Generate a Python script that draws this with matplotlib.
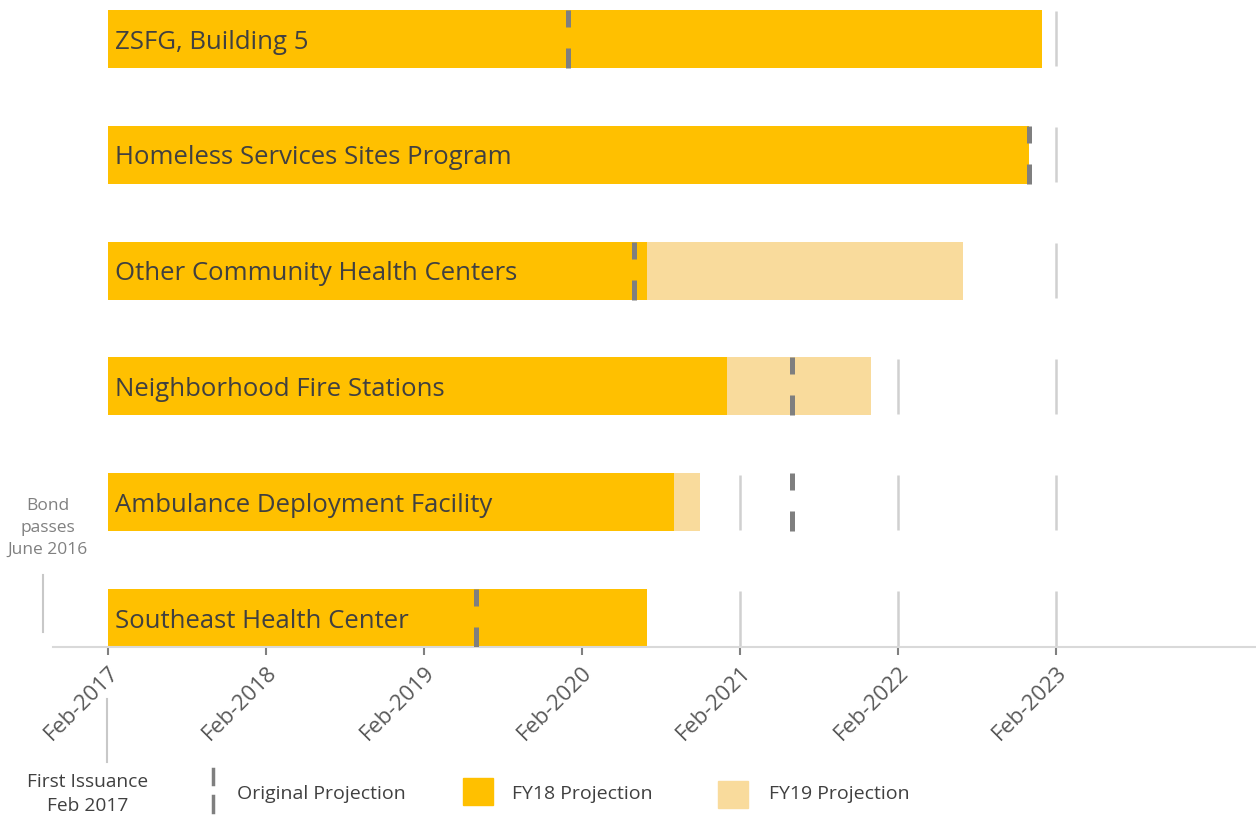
import datetime as dt
import matplotlib

matplotlib.use("Agg")
import matplotlib.pyplot as plt
import matplotlib.dates as mdates
from matplotlib.patches import Rectangle
from matplotlib.lines import Line2D

plt.rcParams["font.family"] = ["Open Sans", "DejaVu Sans"]

# data, bottom row first
projects = [
    "Southeast Health Center",
    "Ambulance Deployment Facility",
    "Neighborhood Fire Stations",
    "Other Community Health Centers",
    "Homeless Services Sites Program",
    "ZSFG, Building 5",
]
start_date = "2017-02-01"
fy18_end = ["2020-07-01", "2020-09-01", "2021-01-01", "2020-07-01", "2022-12-01", "2023-01-01"]
fy19_end = [None, "2020-11-01", "2021-12-01", "2022-07-01", None, None]
original = ["2019-06-01", "2021-06-01", "2021-06-01", "2020-06-01", "2022-12-01", "2020-01-01"]
tick_dates = ["2017-02-01", "2018-02-01", "2019-02-01", "2020-02-01",
              "2021-02-01", "2022-02-01", "2023-02-01"]

FY18_COLOR = "#FFC000"
FY19_COLOR = "#F9DB9C"
ORIG_COLOR = "#7F7F7F"
GRID_COLOR = "#D0D0D0"
TEXT_COLOR = "#404040"


def d(s):
    return mdates.date2num(dt.datetime.strptime(s, "%Y-%m-%d"))


W, H = 1256, 820
fig = plt.figure(figsize=(W / 100, H / 100), dpi=100)
ax = fig.add_axes([53 / W, (H - 648) / H, 1 - 53 / W, 648 / H])

x0 = d(start_date)
days_per_px = 365.25 / 158
ax.set_xlim(x0 - 55 * days_per_px, x0 + 1148 * days_per_px)
ax.set_ylim(-0.25, -0.25 + 649 / 116)

bar_h = 0.5
rows = range(len(projects))
ticks = [d(t) for t in tick_dates]

# grid segments only inside each row (kept a pixel short so they don't peek past bars)
g = bar_h / 2 - 1.5 / 116
for y in rows:
    ax.vlines(ticks[1:], y - g, y + g, color=GRID_COLOR, lw=1.8, zorder=1)

s = x0
for y, name, e18, e19, orig in zip(rows, projects, fy18_end, fy19_end, original):
    ax.barh(y, d(e18) - s, left=s, height=bar_h, color=FY18_COLOR, zorder=2)
    if e19:
        ax.barh(y, d(e19) - d(e18), left=d(e18), height=bar_h, color=FY19_COLOR, zorder=2)
    ox = d(orig)
    top, bot = y + bar_h / 2, y - bar_h / 2
    ax.vlines([ox, ox], [top - 17 / 116, bot], [top, bot + 20 / 116],
              color=ORIG_COLOR, lw=3.6, zorder=3)
    ax.annotate(name, xy=(s, y), xytext=(5, -1.5), textcoords="offset points",
                va="center", ha="left", fontsize=18.5, color=TEXT_COLOR, zorder=4)

for sp in ["top", "right", "left"]:
    ax.spines[sp].set_visible(False)
ax.spines["bottom"].set_color("#D9D9D9")
ax.spines["bottom"].set_linewidth(1.5)
ax.set_yticks([])
ax.set_xticks(ticks)
ax.xaxis.set_major_formatter(mdates.DateFormatter("%b-%Y"))
ax.tick_params(axis="x", length=6, width=1.5, color="#808080", pad=4,
               labelsize=16, labelcolor="#595959")
for lbl in ax.get_xticklabels():
    lbl.set_rotation(45)
    lbl.set_ha("right")
    lbl.set_rotation_mode("anchor")

# side notes
fig.text(48 / W, 1 - 528 / H, "Bond\npasses\nJune 2016", ha="center", va="center",
         fontsize=12.5, color="#808080", linespacing=1.5)
fig.add_artist(Line2D([43 / W, 43 / W], [1 - 576 / H, 1 - 633 / H], color="#C8C8C8", lw=1.5))
fig.text(88 / W, 1 - 794 / H, "First Issuance\nFeb 2017", ha="center", va="center",
         fontsize=13.8, color=TEXT_COLOR, linespacing=1.45)
fig.add_artist(Line2D([107 / W, 107 / W], [1 - 700 / H, 1 - 763 / H], color="#C8C8C8", lw=1.5))

# legend
fig.add_artist(Line2D([213 / W, 213 / W], [1 - 770 / H, 1 - 785 / H], color=ORIG_COLOR, lw=2.5))
fig.add_artist(Line2D([213 / W, 213 / W], [1 - 797 / H, 1 - 813 / H], color=ORIG_COLOR, lw=2.5))
fig.text(237 / W, 1 - 794 / H, "Original Projection", va="center", fontsize=14, color=TEXT_COLOR)
fig.add_artist(Rectangle((463 / W, 1 - 806 / H), 30 / W, 27 / H, color=FY18_COLOR,
                         transform=fig.transFigure))
fig.text(512 / W, 1 - 794 / H, "FY18 Projection", va="center", fontsize=14, color=TEXT_COLOR)
fig.add_artist(Rectangle((718 / W, 1 - 809 / H), 30 / W, 27 / H, color=FY19_COLOR,
                         transform=fig.transFigure))
fig.text(769 / W, 1 - 794 / H, "FY19 Projection", va="center", fontsize=14, color=TEXT_COLOR)

fig.savefig("out.png", dpi=100)
